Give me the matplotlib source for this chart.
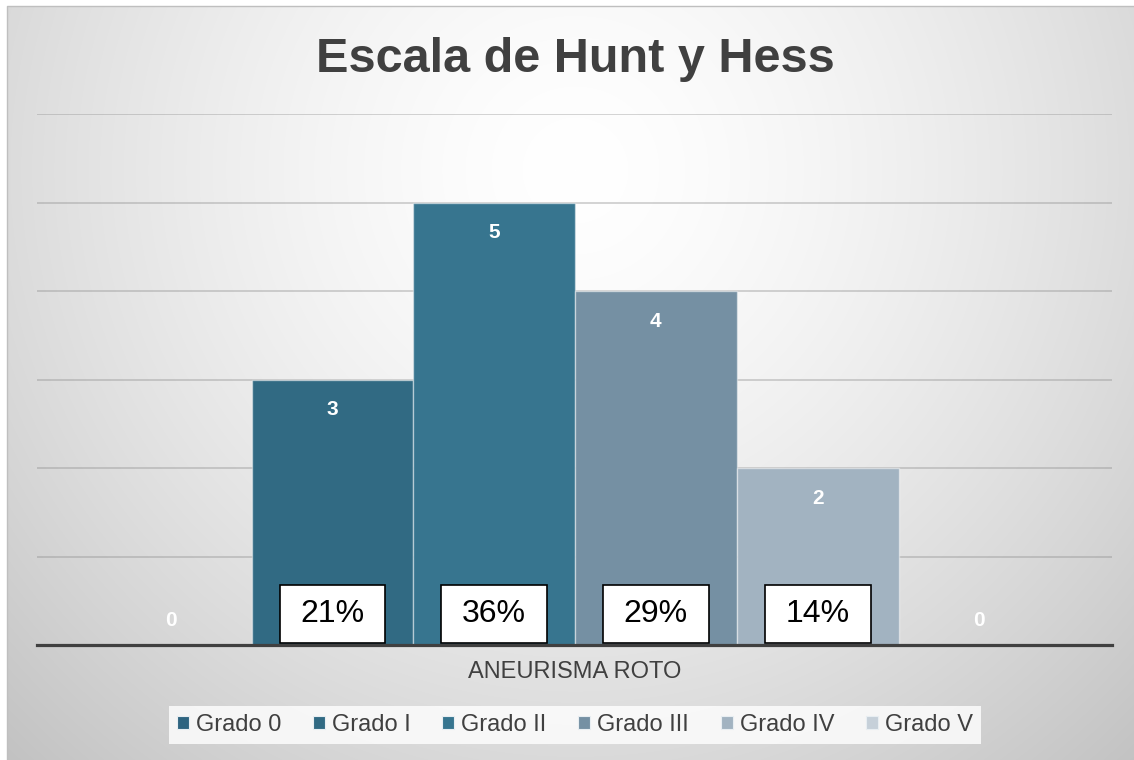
import numpy as np
from matplotlib import pyplot as plt
from matplotlib.patches import Patch, Rectangle

# datos
grados = ["Grado 0", "Grado I", "Grado II", "Grado III", "Grado IV", "Grado V"]
casos = [0, 3, 5, 4, 2, 0]
porcentajes = ["", "21%", "36%", "29%", "14%", ""]
colores = ["#2E6480", "#316A83", "#37758F", "#7590A3", "#A2B3C1", "#C6D0D9"]

plt.rcParams['font.family'] = ['Liberation Sans', 'DejaVu Sans']
gris = '#404040'

W, H = 1134, 760
fig = plt.figure(figsize=(W / 100, H / 100), dpi=100)

# fondo con degradado radial
bg = fig.add_axes([0, 0, 1, 1])
yy, xx = np.mgrid[0:H, 0:W]
r = np.hypot(xx - 575, yy - 170) / 820
grad = np.clip(1 - 0.24 * r ** 1.5, 0, 1)
grad[(xx < 7) | (yy < 6)] = 1
bg.imshow(np.dstack([grad] * 3), aspect='auto', extent=(0, W, H, 0),
          interpolation='bilinear')
bg.plot([7, 7, W], [H, 6, 6], color='#BFBFBF', lw=1)
bg.set_xlim(0, W)
bg.set_ylim(H, 0)
bg.axis('off')

# grafico
ax = fig.add_axes([37 / W, 1 - 645 / H, (1112 - 37) / W, (645 - 114) / H])
ax.patch.set_alpha(0)
x = np.arange(len(grados))
ax.bar(x, casos, width=1, color=colores, edgecolor=(1, 1, 1, 0.45),
       linewidth=1, zorder=2)
ax.set_xlim(-0.827, 5.82)
ax.set_ylim(0, 6)
ax.set_yticks(range(1, 7))
ax.yaxis.grid(True, color='#8C8C8C', alpha=0.4, lw=1.3, zorder=0)
ax.set_axisbelow(True)
ax.tick_params(length=0, labelleft=False, labelbottom=False)
for s in ['left', 'right', 'top']:
    ax.spines[s].set_visible(False)
ax.spines['bottom'].set_color(gris)
ax.spines['bottom'].set_linewidth(2.3)
ax.spines['bottom'].set_zorder(5)

for i, v in enumerate(casos):
    y = v - 0.34 if v else 0.28
    ax.text(i, y, str(v), ha='center', va='center', color='white',
            fontsize=15, fontweight='bold', zorder=4)

for i, p in enumerate(porcentajes):
    if p:
        ax.add_patch(Rectangle((i - 0.327, 0.02), 0.654, 0.66, facecolor='white',
                               edgecolor='black', lw=1.2, zorder=3))
        ax.text(i, 0.35, p, fontsize=23, ha='center', va='center', zorder=4)

fig.text(575 / W, 1 - 72 / H, "Escala de Hunt y Hess", fontsize=35,
         fontweight='bold', color=gris, ha='center', va='baseline')
fig.text(575 / W, 1 - 672 / H, "ANEURISMA ROTO", fontsize=17, color=gris,
         ha='center', va='center')

handles = [Patch(facecolor=c, edgecolor='#E8EEF2', lw=0.8) for c in colores]
leg = fig.legend(handles, grados, loc='center', bbox_to_anchor=(575 / W, 1 - 725 / H),
                 ncol=6, frameon=True, handlelength=0.5,
                 handleheight=0.5, handletextpad=0.3, columnspacing=1.35,
                 borderpad=0.35, fancybox=False,
                 prop={'family': ['Liberation Sans Narrow', 'Liberation Sans'], 'size': 17})
leg.get_frame().set_facecolor((1, 1, 1, 0.35))
leg.get_frame().set_edgecolor('none')
for t in leg.get_texts():
    t.set_color(gris)

fig.savefig('out.png', dpi=100)
